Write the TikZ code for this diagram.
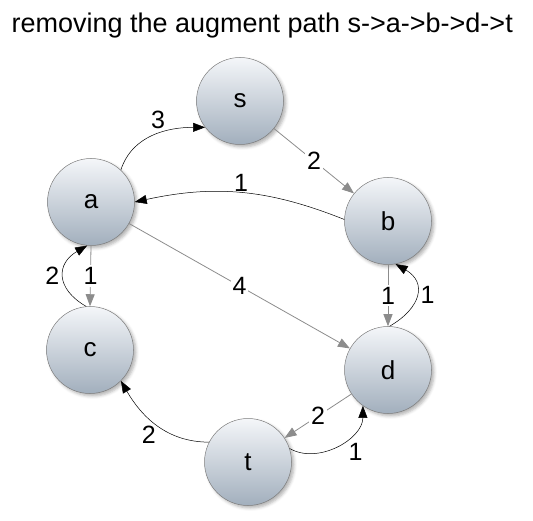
\documentclass[tikz,border=0pt]{standalone}
\usepackage{fontspec}
\setmainfont{Liberation Sans}
\usetikzlibrary{arrows.meta, shadows.blur}
\definecolor{nodeTop}{RGB}{244,246,249}
\definecolor{nodeBot}{RGB}{162,175,189}
\definecolor{rimGray}{RGB}{125,125,125}
\definecolor{flowGray}{RGB}{140,140,140}

\begin{document}
\begin{tikzpicture}[x=1pt, y=1pt,
  vertex/.style={circle, minimum size=87pt, inner sep=0pt, draw=rimGray,
    line width=0.5pt, top color=nodeTop, bottom color=nodeBot,
    blur shadow={shadow xshift=2.5pt, shadow yshift=-2.5pt,
                 shadow blur radius=3pt, shadow opacity=30},
    font=\fontsize{26}{30}\selectfont},
  resid/.style={draw=black, line width=0.5pt, -{Triangle[length=12pt, width=9pt]}},
  flow/.style={draw=flowGray, line width=0.8pt, -{Triangle[length=12pt, width=9pt]}},
  wt/.style={font=\fontsize{25}{28}\selectfont, inner sep=1pt},
  wtw/.style={wt, fill=white, inner sep=2pt}]

\useasboundingbox (0,0) rectangle (533,520);

% --- title -----------------------------------------------------------------
\node[anchor=base west, font=\fontsize{27}{32}\selectfont] (title) at (8,487)
  {removing the augment path s->a->b->d->t};

% --- vertices --------------------------------------------------------------
\node[vertex] (s) at (240,419) {s};
\node[vertex] (a) at (91,318)  {a};
\node[vertex] (b) at (388,299) {b};
\node[vertex] (c) at (90,170)  {c};
\node[vertex] (d) at (388,150) {d};
\node[vertex] (t) at (248,58)  {t};

% --- remaining flow (gray, straight) ---------------------------------------
\draw[flow] (s) -- node[wtw] {2} (b);
\draw[flow] (a) -- node[wtw] {4} (d);
\draw[flow] (a.270) -- node[wtw] {1} (c.90);
\draw[flow] (b.270) -- node[wtw] {1} (d.90);
\draw[flow] (d) -- node[wtw] {2} (t);

% --- residual edges (black, curved) ----------------------------------------
\draw[resid] (a.47) to[out=72, in=180] node[wt, pos=0.55, above=4pt] {3} (s.217);
\draw[resid] (b.178) to[bend right=17] node[wt, midway, above] {1} (a.0);
\draw[resid] (c.95) to[out=150, in=210, looseness=1.5] node[wt, midway, left=3pt] {2} (a.265);
\draw[resid] (d.88) to[out=30, in=-30, looseness=1.5] node[wt, midway, right=3pt] {1} (b.280);
\draw[resid] (t.18) to[out=-30, in=-90] node[wt, pos=0.6, below right=2pt] {1} (d.235);
\draw[resid] (t.153) to[out=180, in=-60] node[wt, pos=0.5, below left] {2} (c.-45);

\end{tikzpicture}
\end{document}
